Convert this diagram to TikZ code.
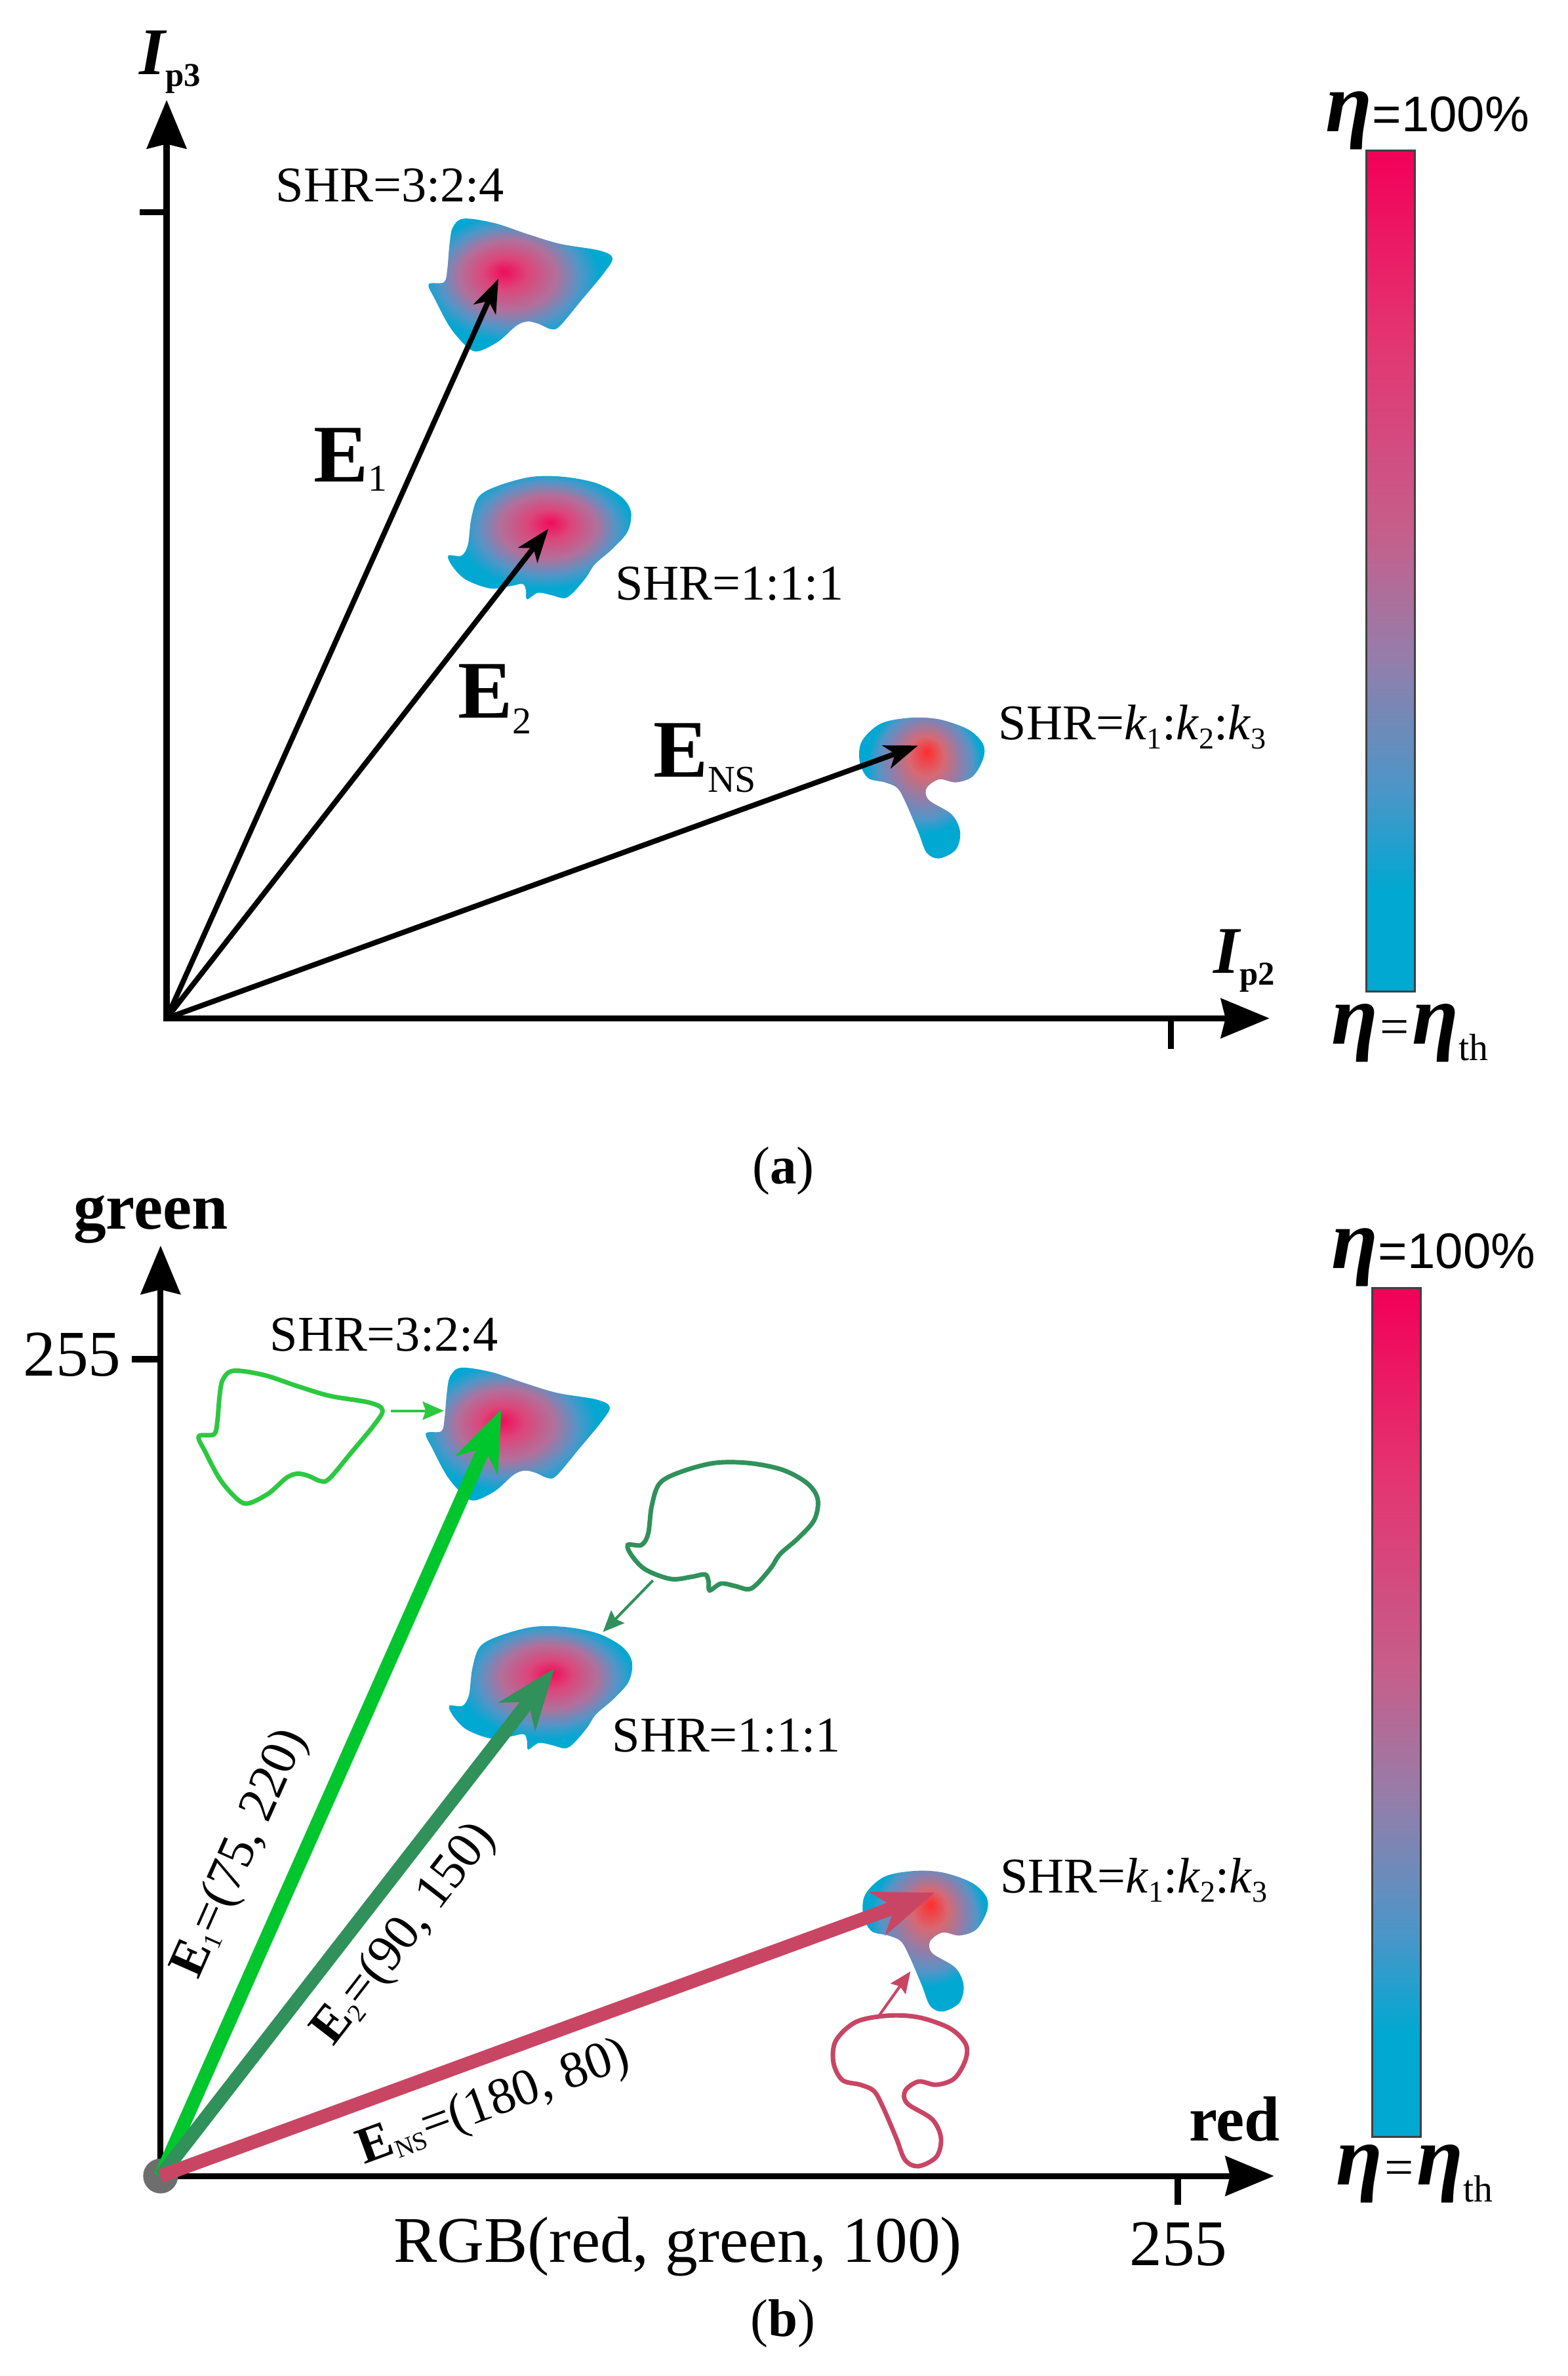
\documentclass[tikz,border=0pt]{standalone}
\usepackage{fontspec}
\setmainfont{Liberation Serif}
\newfontfamily\sansbar{Liberation Sans}
\usetikzlibrary{arrows.meta, positioning}

\definecolor{hotpink}{RGB}{240,12,90}
\definecolor{rosemauve}{RGB}{220,70,122}
\definecolor{mauve}{RGB}{178,112,155}
\definecolor{steelblob}{RGB}{80,150,200}
\definecolor{cyanblob}{RGB}{0,168,210}
\definecolor{hotred}{RGB}{255,45,45}
\definecolor{redmauve}{RGB}{215,105,115}
\definecolor{barred}{RGB}{242,0,88}
\definecolor{barrose}{RGB}{228,52,112}
\definecolor{barmauve}{RGB}{196,96,140}
\definecolor{barlav}{RGB}{150,125,170}
\definecolor{barsteel}{RGB}{75,150,200}
\definecolor{lgreen}{RGB}{0,198,45}
\definecolor{lgreenline}{RGB}{45,200,65}
\definecolor{dgreen}{RGB}{48,145,90}
\definecolor{crimson}{RGB}{200,70,100}
\definecolor{dotgray}{RGB}{110,110,110}

% colour bar and blob shadings (the path box is the middle half of the shading)
\pgfdeclareverticalshading{etabar}{100bp}{color(0bp)=(cyanblob); color(31bp)=(cyanblob); color(37bp)=(barsteel); color(45bp)=(barlav); color(52bp)=(barmauve); color(64bp)=(barrose); color(75bp)=(barred); color(100bp)=(barred)}
\pgfdeclareradialshading{blobone}{\pgfpoint{-4.5bp}{5bp}}{color(0bp)=(hotpink); color(6bp)=(rosemauve); color(13bp)=(mauve); color(19bp)=(steelblob); color(24bp)=(cyanblob); color(50bp)=(cyanblob)}
\pgfdeclareradialshading{blobtwo}{\pgfpoint{3bp}{6bp}}{color(0bp)=(hotpink); color(6bp)=(rosemauve); color(13bp)=(mauve); color(19bp)=(steelblob); color(24bp)=(cyanblob); color(50bp)=(cyanblob)}
\pgfdeclareradialshading{blobthree}{\pgfpoint{2bp}{13bp}}{color(0bp)=(hotred); color(7bp)=(redmauve); color(14bp)=(mauve!60!steelblob); color(19bp)=(steelblob); color(23bp)=(cyanblob); color(50bp)=(cyanblob)}

\newcommand{\lowsub}[2]{\raisebox{-#1pt}{\mdseries\fontsize{25}{25}\selectfont #2}}
\newcommand{\ksub}[1]{\raisebox{-6pt}{\fontsize{20}{20}\selectfont #1}}
\newcommand{\rsub}[1]{\raisebox{-4pt}{\mdseries\fontsize{17}{17}\selectfont #1}}
\newcommand{\etaglyph}{{\fontsize{56}{56}\selectfont\bfseries\itshape η}}

\tikzset{
axisline/.style={line width=4pt, -{Stealth[length=32pt, width=26pt, inset=3pt]}}, % axes
axistick/.style={line width=4pt},
vecblack/.style={line width=3.5pt, -{Stealth[length=22pt, width=16pt, inset=6pt]}}, % vectors of (a)
vecthick/.style={line width=9pt, -{Stealth[length=40pt, width=30pt, inset=12pt]}}, % vectors of (b)
pointer/.style={line width=1.8pt, -{Stealth[length=14pt, width=12pt, inset=2pt]}},
shapeline/.style={line width=3pt},
shrlab/.style={font=\fontsize{33}{33}\selectfont, anchor=base west, inner sep=0pt},
elab/.style={font=\fontsize{54}{54}\selectfont\bfseries, anchor=base west, inner sep=0pt},
ilab/.style={font=\fontsize{44}{44}\selectfont\bfseries\itshape, anchor=base west, inner sep=0pt},
axlab/.style={font=\fontsize{43}{43}\selectfont, inner sep=0pt},
rotlab/.style={font=\fontsize{34}{34}\selectfont, text=black, inner sep=2pt, sloped},
etalab/.style={anchor=base west, inner sep=0pt},
barbox/.style={draw=black!75, line width=1.3pt, shade, shading=etabar, minimum width=32pt, inner sep=0pt},
% spot outlines, drawn round the local origin
shapeone/.style={insert path={plot[smooth cycle, tension=0.55] coordinates {(-26.7,-35.4) (-6.5,-32.5) (15.2,-25.3) (36.8,-18.8) (62.8,-14.4) (71.5,-9.4) (65.7,0.7) (51.3,18.1) (36.8,35.4) (31.0,37.5) (22.4,33.9) (15.2,32.5) (7.9,35.4) (-3.6,45.5) (-16.6,52) (-23.8,49.8) (-35.4,36.8) (-45.5,18.1) (-49.8,7.9) (-39.7,6.5) (-37.5,-2.2) (-36.1,-18.1) (-33.9,-29.6)}}},
shapetwo/.style={insert path={plot[smooth cycle, tension=0.55] coordinates {(-34.7,-24.5) (-13,-30.3) (8.7,-30.3) (30.3,-26) (46.2,-17.3) (52.7,-7.2) (50.5,5.8) (40.4,17.3) (28.9,27.4) (23.1,36.1) (14.4,46.2) (8.7,49.8) (0,47.7) (-8.7,46.2) (-15.9,50.5) (-16.6,44.8) (-18.8,40.4) (-27.4,41.9) (-40.4,43.3) (-56.3,37.5) (-65,28.9) (-67.9,21.7) (-59.2,21.7) (-54.9,14.4) (-52.7,-2.9) (-47.7,-17.3)}}},
shapethree/.style={insert path={plot[smooth cycle, tension=0.55] coordinates {(-30.4,-17.4) (-11,-21.3) (8.3,-20.3) (27.6,-13.5) (37.3,-3.9) (37.3,5.8) (30.4,17.4) (19.3,21.3) (8.3,19.3) (0,25.1) (1.4,32.9) (16.6,42.5) (22.1,54.1) (19.3,65.7) (8.3,71.5) (0,67.7) (-5.5,54.1) (-13.8,34.8) (-19.3,25.1) (-27.6,21.3) (-38.7,18.4) (-44.2,7.7) (-42.8,-5.8)}}},
}

\begin{document}
\begin{tikzpicture}[x=1pt, y=-1pt]
  \useasboundingbox (0,0) rectangle (1035,1568);
  \fill[white] (0,0) rectangle (1035,1568);

  %%% panel (a)
  \coordinate (Oa) at (110,672);
  \coordinate (Ya) at (110,66);
  \coordinate (Xa) at (838,672);
  \coordinate (Ha1) at (332.8,179.7);
  \coordinate (Ha2) at (363.8,345);
  \coordinate (Ha3) at (611.7,495);
  \coordinate (T1a) at (329,184);
  \coordinate (T2a) at (362,349);
  \coordinate (T3a) at (606,492);

  \shade[shading=blobone, shift={(Ha1)}, shapeone];
  \shade[shading=blobtwo, shift={(Ha2)}, shapetwo];
  \shade[shading=blobthree, shift={(Ha3)}, shapethree];

  \draw[axisline, shorten <=-2pt] (Oa) -- (Ya);
  \draw[axisline, shorten <=-2pt] (Oa) -- (Xa);
  \draw[axistick] (110,140) -- (92,140);
  \draw[axistick] (773,672) -- (773,692);

  \draw[vecblack] (Oa) -- (T1a);
  \draw[vecblack] (Oa) -- (T2a);
  \draw[vecblack] (Oa) -- (T3a);

  \node[ilab] (Ip3) at (92,49) {I\raisebox{-8pt}{\upshape\fontsize{22}{22}\selectfont p3}};
  \node[ilab] (Ip2) at (801,642) {I\raisebox{-8pt}{\upshape\fontsize{22}{22}\selectfont p2}};
  \node[elab] (E1a) at (207,318) {E\lowsub{6}{1}};
  \node[elab] (E2a) at (302,474) {E\lowsub{10}{2}};
  \node[elab] (ENSa) at (431,512.7) {E\lowsub{10}{NS}};
  \node[shrlab] (shr1a) at (182,133) {SHR=3:2:4};
  \node[shrlab] (shr2a) at (406,396) {SHR=1:1:1};
  \node[shrlab] (shr3a) at (659,488) {SHR=\textit{k}\ksub{1}:\textit{k}\ksub{2}:\textit{k}\ksub{3}};

  \node[barbox, minimum height=555pt] (bara) at (918,377) {};
  \node[etalab] (topa) at (875,87) {\etaglyph{\sansbar\fontsize{33}{33}\selectfont=100\%}};
  \node[etalab] (bota) at (879,689) {\etaglyph\kern1pt{\fontsize{34}{34}\selectfont=}\kern2pt\etaglyph\lowsub{11}{th}};

  \node[axlab, font=\fontsize{35}{35}\selectfont, anchor=base] (capa) at (517,781) {(\textbf{a})};

  %%% panel (b)
  \coordinate (Ob) at (106,1436);
  \coordinate (Yb) at (106,822);
  \coordinate (Xb) at (841,1436);
  \coordinate (Hb1) at (331,938);
  \coordinate (Hb2) at (364.5,1104);
  \coordinate (Hb3) at (614,1256);
  \coordinate (T1b) at (331,930);
  \coordinate (T2b) at (366,1101);
  \coordinate (T3b) at (617,1249);
  \coordinate (G1) at (181,940);
  \coordinate (G2) at (485,997);
  \coordinate (R1) at (597.5,1353);
  \coordinate (G1s) at (258,931);
  \coordinate (G1e) at (293,931);
  \coordinate (G2s) at (431,1043);
  \coordinate (G2e) at (398,1077);
  \coordinate (R1s) at (579,1332);
  \coordinate (R1e) at (601,1301);

  \shade[shading=blobone, shift={(Hb1)}, shapeone];
  \shade[shading=blobtwo, shift={(Hb2)}, shapetwo];
  \shade[shading=blobthree, shift={(Hb3)}, shapethree];

  \draw[shapeline, lgreenline, shift={(G1)}, shapeone];
  \draw[shapeline, dgreen, shift={(G2)}, scale=1.04, shapetwo];
  \draw[shapeline, crimson, shift={(R1)}, scale=1.07, shapethree];
  \draw[pointer, lgreenline] (G1s) -- (G1e);
  \draw[pointer, dgreen] (G2s) -- (G2e);
  \draw[pointer, crimson] (R1s) -- (R1e);

  \draw[axisline, shorten <=-2pt] (Ob) -- (Yb);
  \draw[axisline, shorten <=-2pt] (Ob) -- (Xb);
  \draw[axistick] (106,897) -- (87,897);
  \draw[axistick] (777.5,1436) -- (777.5,1455);
  \node[circle, fill=dotgray, minimum size=23pt, inner sep=0pt] (dotb) at (Ob) {};

  \draw[vecthick, lgreen] (Ob) -- node[rotlab, above=16pt, pos=0.39] (E1b) {{\bfseries E}\rsub{1}=(75, 220)} (T1b);
  \draw[vecthick, dgreen] (Ob) -- node[rotlab, below=8pt, pos=0.53] (E2b) {{\bfseries E}\rsub{2}=(90, 150)} (T2b);
  \draw[vecthick, crimson] (Ob) -- node[rotlab, below=9pt, pos=0.41] (ENSb) {{\bfseries E}\rsub{NS}=(180, 80)} (T3b);

  \node[axlab, font=\fontsize{43}{43}\selectfont\bfseries, anchor=base] (greenlab) at (99.5,811) {green};
  \node[axlab, font=\fontsize{42}{42}\selectfont\bfseries, anchor=base] (redlab) at (815,1413) {red};
  \node[axlab, anchor=base east] (ymax) at (80,908) {255};
  \node[axlab, anchor=base] (xmax) at (778,1495) {255};
  \node[axlab, anchor=base] (rgb) at (447.5,1493) {RGB(red, green, 100)};
  \node[shrlab] (shr1b) at (178,891.6) {SHR=3:2:4};
  \node[shrlab] (shr2b) at (404,1156) {SHR=1:1:1};
  \node[shrlab] (shr3b) at (660,1249) {SHR=\textit{k}\ksub{1}:\textit{k}\ksub{2}:\textit{k}\ksub{3}};

  \node[barbox, minimum height=560pt] (barb) at (922,1130) {};
  \node[etalab] (topb) at (879,837) {\etaglyph{\sansbar\fontsize{33}{33}\selectfont=100\%}};
  \node[etalab] (botb) at (882,1442) {\etaglyph\kern1pt{\fontsize{34}{34}\selectfont=}\kern2pt\etaglyph\lowsub{11}{th}};

  \node[axlab, font=\fontsize{35}{35}\selectfont, anchor=base] (capb) at (517,1542) {(\textbf{b})};
\end{tikzpicture}
\end{document}
